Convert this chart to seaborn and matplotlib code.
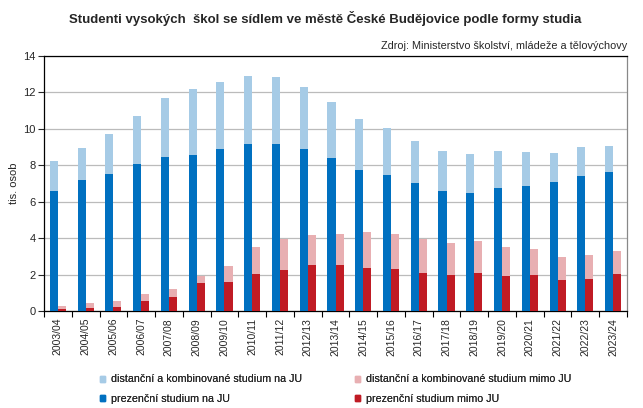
import numpy as np
import pandas as pd
import matplotlib
matplotlib.use("Agg")
import matplotlib.pyplot as plt
import seaborn as sns
from matplotlib.patches import Patch

# roky
roky = ['2003/04', '2004/05', '2005/06', '2006/07', '2007/08', '2008/09', '2009/10',
        '2010/11', '2011/12', '2012/13', '2013/14', '2014/15', '2015/16', '2016/17',
        '2017/18', '2018/19', '2019/20', '2020/21', '2021/22', '2022/23', '2023/24']

# tis. osob
prez_ju = [6.61, 7.21, 7.54, 8.09, 8.47, 8.58, 8.91, 9.19, 9.19, 8.91, 8.42,
           7.76, 7.49, 7.05, 6.61, 6.50, 6.78, 6.88, 7.10, 7.43, 7.65]
celkem_ju = [8.25, 8.97, 9.73, 10.72, 11.71, 12.20, 12.58, 12.91, 12.86, 12.31, 11.49,
             10.55, 10.06, 9.35, 8.80, 8.64, 8.80, 8.75, 8.69, 9.02, 9.08]
prez_mimo = [0.11, 0.16, 0.22, 0.53, 0.75, 1.52, 1.57, 2.01, 2.23, 2.50, 2.50,
             2.34, 2.28, 2.06, 1.95, 2.06, 1.90, 1.95, 1.68, 1.73, 2.01]
celkem_mimo = [0.26, 0.42, 0.53, 0.91, 1.19, 1.90, 2.45, 3.54, 3.93, 4.20, 4.25,
               4.31, 4.25, 3.93, 3.71, 3.87, 3.54, 3.38, 2.99, 3.05, 3.32]

barvy = {'dist_ju': '#A6CBE6', 'prez_ju': '#0070C0',
         'dist_mimo': '#E8AFB2', 'prez_mimo': '#C01B24'}

df = pd.DataFrame({'rok': roky, 'prez_ju': prez_ju, 'celkem_ju': celkem_ju,
                   'prez_mimo': prez_mimo, 'celkem_mimo': celkem_mimo})

sns.set_style('white')
plt.rcParams['font.family'] = ['Liberation Sans', 'DejaVu Sans']

fig = plt.figure(figsize=(6.43, 4.08), dpi=100)
ax = fig.add_axes([44 / 643, 1 - 311 / 408, 583 / 643, 255 / 408])

x = np.arange(len(roky))
w = 0.29
# stacked: celkem dole, prezencni pres nej
ax.bar(x - w / 2, df['celkem_ju'], width=w, color=barvy['dist_ju'], linewidth=0, zorder=2)
ax.bar(x - w / 2, df['prez_ju'], width=w, color=barvy['prez_ju'], linewidth=0, zorder=3)
ax.bar(x + w / 2, df['celkem_mimo'], width=w, color=barvy['dist_mimo'], linewidth=0, zorder=2)
ax.bar(x + w / 2, df['prez_mimo'], width=w, color=barvy['prez_mimo'], linewidth=0, zorder=3)

ax.set_xlim(-0.5, len(roky) - 0.5)
ax.set_ylim(0, 14)
ax.set_yticks(range(0, 15, 2))
ax.set_xticks(x)
ax.set_xticklabels(roky, rotation=90, fontsize=7.5)
ax.set_xticks(np.arange(-0.5, len(roky), 1), minor=True)
ax.tick_params(axis='x', which='major', length=0, pad=5)
ax.tick_params(axis='x', which='minor', length=4, width=0.8, direction='out', color='black', bottom=True)
ax.tick_params(axis='y', length=4, width=0.8, direction='out', labelsize=8, pad=2, left=True)
ax.yaxis.grid(True, color='#BBBBBB', linewidth=0.9, zorder=0)

for s in ['left', 'bottom', 'top']:
    ax.spines[s].set_color('black')
    ax.spines[s].set_linewidth(0.9)
ax.spines['right'].set_color('#888888')
ax.spines['right'].set_linewidth(0.9)

ax.set_ylabel('tis. osob', fontsize=8, labelpad=3)

fig.text(0.505, 1 - 18 / 408, 'Studenti vysokých  škol se sídlem ve městě České Budějovice podle formy studia',
         ha='center', va='center', fontsize=9.5, fontweight='bold')
fig.text(627 / 643, 1 - 46 / 408, 'Zdroj: Ministerstvo školství, mládeže a tělovýchovy',
         ha='right', va='center', fontsize=7.8)

# legenda - dva sloupce zvlast
sloupce = [
    (100, [barvy['dist_ju'], barvy['prez_ju']],
     ['distanční a kombinované studium na JU', 'prezenční studium na JU']),
    (355, [barvy['dist_mimo'], barvy['prez_mimo']],
     ['distanční a kombinované studium mimo JU', 'prezenční studium mimo JU']),
]
for x0, cols, labs in sloupce:
    leg = fig.legend([Patch(color=c) for c in cols], labs, loc='center left',
                     bbox_to_anchor=(x0 / 643, 1 - 389 / 408), borderaxespad=0, borderpad=0,
                     frameon=False, fontsize=7.7, handlelength=0.45, handleheight=0.45,
                     handletextpad=0.55, labelspacing=0.85)
    fig.add_artist(leg)

fig.savefig('out.png', dpi=100)
